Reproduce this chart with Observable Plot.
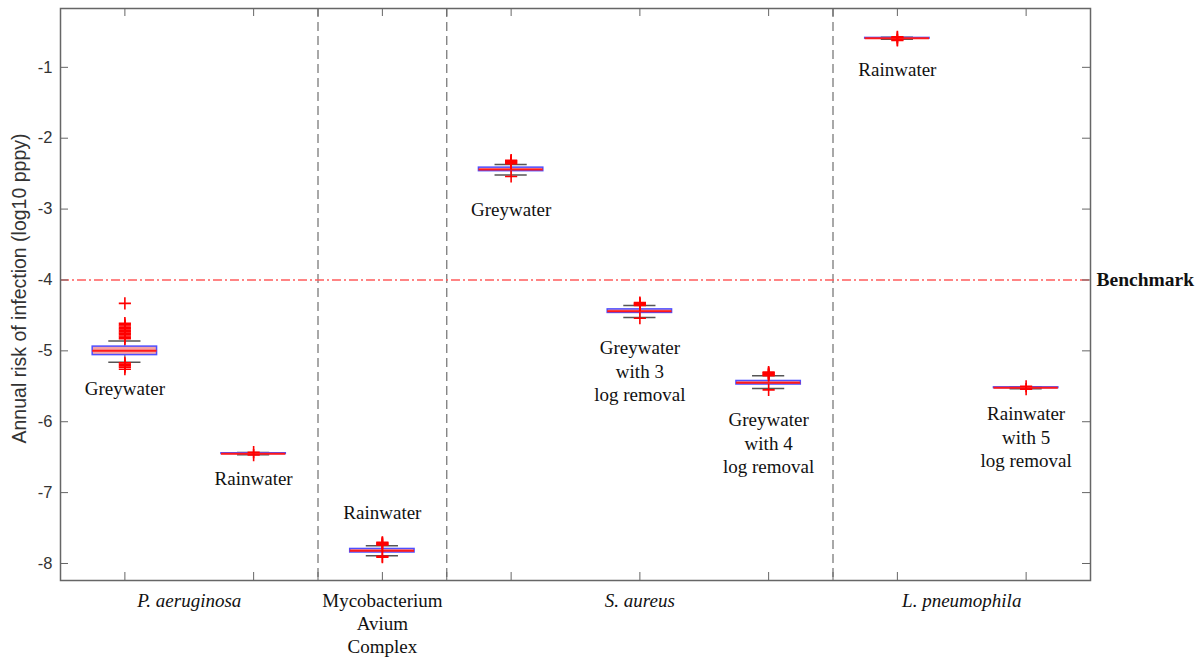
<!DOCTYPE html>
<html>
<head>
<meta charset="utf-8">
<script src="https://cdn.jsdelivr.net/npm/d3@7"></script>
<script src="https://cdn.jsdelivr.net/npm/@observablehq/plot@0.6"></script>
<style>
  html, body { margin: 0; padding: 0; background: #fff; }
  #chart { width: 1201px; height: 657px; }
</style>
</head>
<body>
<div id="chart"></div>
<script>
// ---------- data ----------
const categories = ["P. aeruginosa", "Mycobacterium\nAvium\nComplex", "S. aureus", "L. pneumophila"];
const categoryPos = [2, 5, 9, 14];
const categoryItalic = [true, false, true, true];

const groupLabels = ["Greywater", "Rainwater", "Rainwater", "Greywater",
  "Greywater\nwith 3\nlog removal", "Greywater\nwith 4\nlog removal",
  "Rainwater", "Rainwater\nwith 5\nlog removal"];
const groupPos = [1, 3, 5, 7, 9, 11, 13, 15];
const medians = [-5.00, -6.45, -7.82, -2.44, -4.44, -5.45, -0.59, -5.52];
const q1 = [-5.06, -6.455, -7.845, -2.465, -4.465, -5.475, -0.595, -5.525];
const q3 = [-4.94, -6.445, -7.795, -2.415, -4.415, -5.425, -0.585, -5.515];
const whiskerLow = [-5.16, -6.465, -7.89, -2.52, -4.53, -5.53, -0.605, -5.535];
const whiskerHigh = [-4.86, -6.435, -7.75, -2.37, -4.36, -5.35, -0.575, -5.505];
const outliers = [
  [-4.33, -4.61, -4.63, -4.65, -4.67, -4.69, -4.71, -4.73, -4.75, -4.77, -4.79, -4.81, -4.83, -5.17, -5.19, -5.21, -5.23, -5.26],
  [-6.43, -6.47],
  [-7.70, -7.71, -7.72, -7.73, -7.74, -7.90, -7.91],
  [-2.31, -2.32, -2.33, -2.34, -2.35, -2.36, -2.54],
  [-4.32, -4.33, -4.34, -4.35, -4.36, -4.54],
  [-5.30, -5.31, -5.32, -5.33, -5.34, -5.35, -5.55],
  [-0.57, -0.58, -0.61, -0.62],
  [-5.50, -5.54]
];
const labelY = [-5.53, -6.80, -7.28, -3.00, -4.95, -5.97, -1.03, -5.88];
const separators = [4, 6, 12];
const benchmark = -4;
const benchmarkLabel = "Benchmark";
const yTicks = [-1, -2, -3, -4, -5, -6, -7, -8];
const xTicks = [1, 3, 4, 5, 6, 7, 9, 11, 12, 13, 15];
const yLabel = "Annual risk of infection (log10 pppy)";

// ---------- build ----------
const groups = groupPos.map((x, i) => ({
  x, median: medians[i], q1: q1[i], q3: q3[i],
  lo: whiskerLow[i], hi: whiskerHigh[i], label: groupLabels[i], ly: labelY[i]
}));
const outlierPts = outliers.flatMap((arr, i) => arr.map(v => ({x: groupPos[i], y: v})));
const cats = categories.map((c, i) => ({x: categoryPos[i], text: c, italic: categoryItalic[i]}));

const W = 1201, H = 657, mL = 60, mR = 111, mT = 8, mB = 77;
const pw = W - mL - mR, ph = H - mT - mB;
const serif = "Liberation Serif, Times New Roman, serif";
const sans = "Liberation Sans, Arial, sans-serif";
const axisColor = "#666";

const chart = Plot.plot({
  width: W, height: H,
  marginLeft: mL, marginRight: mR, marginTop: mT, marginBottom: mB,
  x: {domain: [0, 16], axis: null},
  y: {domain: [-8.24, -0.17], axis: null},
  style: {background: "#fff", overflow: "visible"},
  marks: [
    Plot.ruleX(separators, {x: d => d, stroke: "#7a7a7a", strokeWidth: 1.3, strokeDasharray: "9,5"}),
    Plot.ruleY([benchmark], {y: d => d, stroke: "#ff5c5c", strokeWidth: 1.5, strokeDasharray: "9,3,2,3"}),
    // whiskers
    Plot.ruleX(groups, {x: "x", y1: "lo", y2: "hi", stroke: "#555", strokeWidth: 1}),
    Plot.ruleY(groups, {y: "lo", x1: d => d.x - 0.25, x2: d => d.x + 0.25, stroke: "#555", strokeWidth: 1.5}),
    Plot.ruleY(groups, {y: "hi", x1: d => d.x - 0.25, x2: d => d.x + 0.25, stroke: "#555", strokeWidth: 1.5}),
    // boxes
    Plot.rect(groups, {x1: d => d.x - 0.5, x2: d => d.x + 0.5, y1: "q1", y2: "q3", fill: "#f5a3a3", stroke: "#4f4fff", strokeWidth: 1.5}),
    Plot.ruleY(groups, {y: "median", x1: d => d.x - 0.5, x2: d => d.x + 0.5, stroke: "#ff1a1a", strokeWidth: 2}),
    // outliers
    Plot.dot(outlierPts, {x: "x", y: "y", symbol: "plus", r: 4, stroke: "#ff0000", strokeWidth: 1.6}),
    // frame + ticks
    Plot.frame({stroke: axisColor, strokeWidth: 1.5}),
    Plot.tickY(yTicks, {y: d => d, insetRight: pw - 8, stroke: axisColor}),
    Plot.tickY(yTicks, {y: d => d, insetLeft: pw - 8, stroke: axisColor}),
    Plot.tickX(xTicks, {x: d => d, insetTop: ph - 8, stroke: axisColor}),
    Plot.tickX(xTicks, {x: d => d, insetBottom: ph - 8, stroke: axisColor}),
    // y tick labels
    Plot.text(yTicks, {y: d => d, text: d => String(d), frameAnchor: "left", dx: -8, textAnchor: "end",
      fontFamily: sans, fontSize: 16.5, fill: "#333"}),
    // y label
    Plot.text([yLabel], {text: d => d, frameAnchor: "left", textAnchor: "middle", rotate: -90, dx: -41, dy: -6,
      fontFamily: sans, fontSize: 19.5, fill: "#333"}),
    // benchmark label
    Plot.text([benchmarkLabel], {text: d => d, y: benchmark, frameAnchor: "right", dx: 6, textAnchor: "start",
      fontFamily: serif, fontWeight: "bold", fontSize: 19.5, fill: "#111"}),
    // group labels
    Plot.text(groups, {x: "x", y: "ly", text: "label", lineAnchor: "top", dy: -10, lineHeight: 1.24,
      fontFamily: serif, fontSize: 19, fill: "#111"}),
    // category labels
    Plot.text(cats.filter(d => d.italic), {x: "x", text: "text", frameAnchor: "bottom", lineAnchor: "top", dy: 10,
      lineHeight: 1.22, fontFamily: serif, fontStyle: "italic", fontSize: 19, fill: "#111"}),
    Plot.text(cats.filter(d => !d.italic), {x: "x", text: "text", frameAnchor: "bottom", lineAnchor: "top", dy: 10,
      lineHeight: 1.22, fontFamily: serif, fontSize: 19, fill: "#111"})
  ]
});
document.getElementById("chart").appendChild(chart);
</script>
</body>
</html>
